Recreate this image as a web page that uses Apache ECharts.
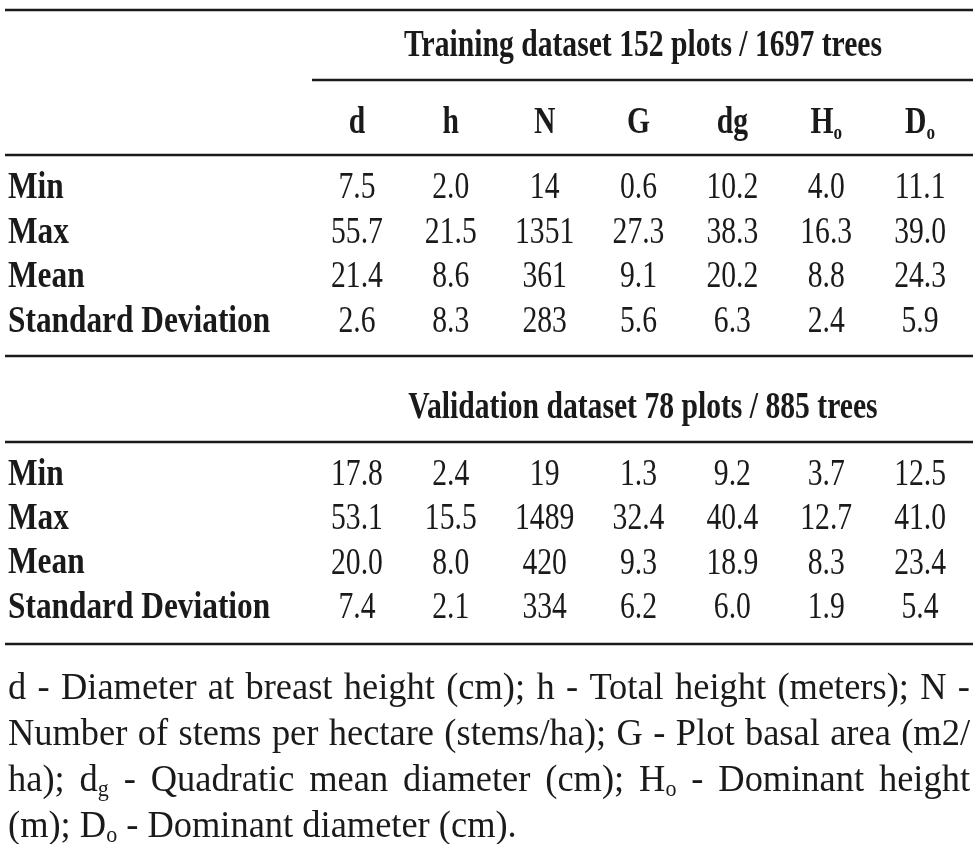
<!DOCTYPE html>
<html lang="en">
<head>
<meta charset="UTF-8">
<title>Training and validation datasets</title>
<script src="https://cdn.jsdelivr.net/npm/echarts@6/dist/echarts.min.js"></script>
<style>html, body { margin: 0; background: #fff; }</style>
</head>
<body>
<div id="main" style="width: 978px; height: 844px;"></div>
<script>
// ---- table content ----
var columns = ['d', 'h', 'N', 'G', 'dg', 'H_o', 'D_o'];
var decimals = [1, 1, 0, 1, 1, 1, 1];
var rowNames = ['Min', 'Max', 'Mean', 'Standard Deviation'];
var trainingTitle = 'Training dataset 152 plots / 1697 trees';
var validationTitle = 'Validation dataset 78 plots / 885 trees';

var trainingMin  = [7.5, 2.0, 14, 0.6, 10.2, 4.0, 11.1];
var trainingMax  = [55.7, 21.5, 1351, 27.3, 38.3, 16.3, 39.0];
var trainingMean = [21.4, 8.6, 361, 9.1, 20.2, 8.8, 24.3];
var trainingSd   = [2.6, 8.3, 283, 5.6, 6.3, 2.4, 5.9];

var validationMin  = [17.8, 2.4, 19, 1.3, 9.2, 3.7, 12.5];
var validationMax  = [53.1, 15.5, 1489, 32.4, 40.4, 12.7, 41.0];
var validationMean = [20.0, 8.0, 420, 9.3, 18.9, 8.3, 23.4];
var validationSd   = [7.4, 2.1, 334, 6.2, 6.0, 1.9, 5.4];

var footnoteLines = [
    'd - Diameter at breast height (cm); h - Total height (meters); N -',
    'Number of stems per hectare (stems/ha); G - Plot basal area (m2/',
    'ha); d_g - Quadratic mean diameter (cm); H_o - Dominant height',
    '(m); D_o - Dominant diameter (cm).'
];

// ---- look ----
var serif = '"Liberation Serif", "Times New Roman", serif';
var ink = '#1a1a1a';
var fs = 38;          // table font size
var squeeze = 0.78;   // the table face is a condensed Times
var labelSqueeze = 0.825;
var noteFs = 38;

var chart = echarts.init(document.getElementById('main'));

// "H_o" -> rich text with a subscript
function richLabel(str, main, sub) {
    var parts = str.split('_');
    if (parts.length < 2) return '{' + main + '|' + parts[0] + '}';
    return '{' + main + '|' + parts[0] + '}{' + sub + '|' + parts[1] + '}';
}

var richStyles = {
    b:  { fontFamily: serif, fontWeight: 'bold', fontSize: fs, lineHeight: 42, fill: ink },
    bs: { fontFamily: serif, fontWeight: 'bold', fontSize: 22, lineHeight: 22, verticalAlign: 'bottom', fill: ink },
    n:  { fontFamily: serif, fontSize: noteFs, lineHeight: 40, fill: ink },
    ns: { fontFamily: serif, fontSize: 23, lineHeight: 22, verticalAlign: 'bottom', fill: ink }
};

function tableSeries(gridIndex, rows) {
    var cells = [];
    rows.forEach(function (vals, r) {
        cells.push({ value: [0, r], text: rowNames[r], isRow: true });
        vals.forEach(function (v, c) {
            cells.push({ value: [c, r], text: v.toFixed(decimals[c]) });
        });
    });
    return {
        type: 'custom',
        xAxisIndex: gridIndex,
        yAxisIndex: gridIndex,
        silent: true,
        animation: false,
        data: cells.map(function (c) { return c.value; }),
        renderItem: function (params, api) {
            var cell = cells[params.dataIndex];
            var p = api.coord([api.value(0), api.value(1)]);
            return {
                type: 'text',
                x: cell.isRow ? 8 : p[0],
                y: p[1],
                scaleX: cell.isRow ? labelSqueeze : squeeze,
                style: {
                    text: cell.text,
                    fontFamily: serif,
                    fontSize: fs,
                    fontWeight: cell.isRow ? 'bold' : 'normal',
                    fill: ink,
                    align: cell.isRow ? 'left' : 'center',
                    verticalAlign: 'middle'
                }
            };
        }
    };
}

// column heads sit one header-row above the first data row
var headSeries = {
    type: 'custom',
    xAxisIndex: 0,
    yAxisIndex: 0,
    silent: true,
    animation: false,
    data: columns.map(function (c, i) { return [i, 0]; }),
    renderItem: function (params, api) {
        var p = api.coord([api.value(0), api.value(1)]);
        return {
            type: 'text',
            x: p[0],
            y: p[1] - 65,
            scaleX: squeeze,
            style: {
                text: richLabel(columns[params.dataIndex], 'b', 'bs'),
                rich: richStyles,
                align: 'center',
                verticalAlign: 'middle'
            }
        };
    }
};

// ---- footnote, justified like the source ----
var ctx = document.createElement('canvas').getContext('2d');
function measure(str, size) {
    ctx.font = size + 'px ' + serif;
    return ctx.measureText(str).width;
}
function wordWidth(w) {
    var parts = w.split('_');
    return measure(parts[0], noteFs) + (parts[1] ? measure(parts[1], 23) : 0);
}

var noteLeft = 8, noteRight = 970, noteTop = 689, noteStep = 46;
var space = measure(' ', noteFs);
// first line is set with nearly plain word spacing in the source
var firstWords = footnoteLines[0].split(' ');
var firstNatural = firstWords.reduce(function (s, w) { return s + wordWidth(w); }, 0) + space * (firstWords.length - 1);
var noteScale = 0.97 * (noteRight - noteLeft) / firstNatural;

var graphics = [];
footnoteLines.forEach(function (line, i) {
    var words = line.split(' ');
    var widths = words.map(wordWidth);
    var total = widths.reduce(function (a, b) { return a + b; }, 0) * noteScale;
    var justify = i < footnoteLines.length - 1;
    var gap = justify ? (noteRight - noteLeft - total) / (words.length - 1) : space * noteScale;
    var x = noteLeft;
    words.forEach(function (w, k) {
        graphics.push({
            type: 'text',
            x: x,
            y: noteTop + i * noteStep,
            scaleX: noteScale,
            silent: true,
            style: {
                text: richLabel(w, 'n', 'ns'),
                rich: richStyles,
                align: 'left',
                verticalAlign: 'middle'
            }
        });
        x += widths[k] * noteScale + gap;
    });
});

// rules
function rule(x1, x2, y) {
    return {
        type: 'line', silent: true,
        shape: { x1: x1, y1: y, x2: x2, y2: y },
        style: { stroke: ink, lineWidth: 2.5 }
    };
}
graphics.push(rule(5, 973, 10), rule(312, 973, 80), rule(5, 973, 155),
    rule(5, 973, 356), rule(5, 973, 442), rule(5, 973, 644));

// dataset headings
[[trainingTitle, 46], [validationTitle, 408]].forEach(function (t) {
    graphics.push({
        type: 'text', x: 643, y: t[1], scaleX: squeeze, silent: true,
        style: {
            text: t[0], fontFamily: serif, fontSize: fs, fontWeight: 'bold',
            fill: ink, align: 'center', verticalAlign: 'middle'
        }
    });
});

var hiddenCat = function (data, gridIndex, extra) {
    return Object.assign({
        type: 'category', data: data, gridIndex: gridIndex, show: false
    }, extra || {});
};

chart.setOption({
    animation: false,
    backgroundColor: '#fff',
    grid: [
        { left: 310, width: 657, top: 165.7, height: 178.7 },
        { left: 310, width: 657, top: 452.8, height: 177.3 }
    ],
    xAxis: [hiddenCat(columns, 0), hiddenCat(columns, 1)],
    yAxis: [hiddenCat(rowNames, 0, { inverse: true }), hiddenCat(rowNames, 1, { inverse: true })],
    graphic: graphics,
    series: [
        headSeries,
        tableSeries(0, [trainingMin, trainingMax, trainingMean, trainingSd]),
        tableSeries(1, [validationMin, validationMax, validationMean, validationSd])
    ]
});
</script>
</body>
</html>
